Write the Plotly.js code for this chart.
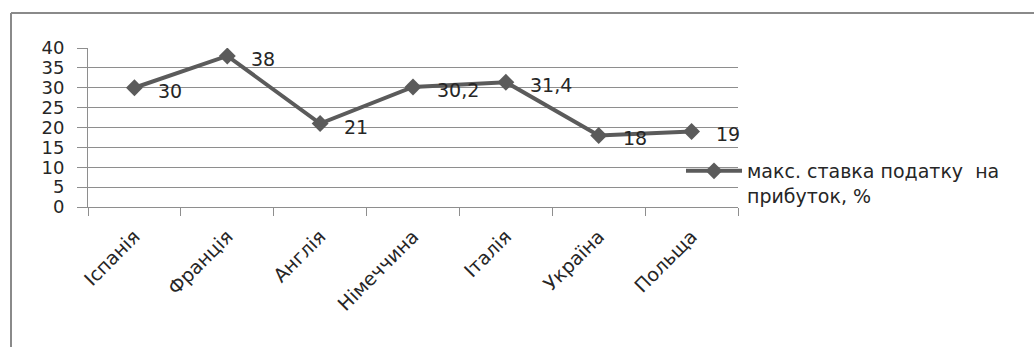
<!DOCTYPE html>
<html>
<head>
<meta charset="utf-8">
<script src="https://cdn.plot.ly/plotly-3.0.1.min.js"></script>
<style>
  html, body { margin: 0; padding: 0; background: #ffffff; }
  #chart { width: 1034px; height: 347px; }
</style>
</head>
<body>
<div id="chart"></div>
<script>
// Maximum corporate profit tax rate by country, %
const countries = ['Іспанія', 'Франція', 'Англія', 'Німеччина', 'Італія', 'Україна', 'Польща'];
const taxRates = [30, 38, 21, 30.2, 31.4, 18, 19];
const seriesName = 'макс. ставка податку \u00a0на<br>прибуток, %';
const yTicks = [0, 5, 10, 15, 20, 25, 30, 35, 40];

const W = 1034, H = 347;
const M = { l: 88, r: 296, t: 48, b: 140, autoexpand: false };
const PW = W - M.l - M.r, PH = H - M.t - M.b;
// convert page pixels into paper coordinates (for the outer frame lines)
const px = x => (x - M.l) / PW;
const py = y => (M.t + PH - y) / PH;

const INK = '#5b5b5b';
const GRID = '#8e8e8e';
const TEXT = '#262626';
const FONT = 'DejaVu Sans, sans-serif';

const fmt = v => String(v).replace('.', ',');

const trace = {
  type: 'scatter',
  mode: 'lines+markers',
  x: countries,
  y: taxRates,
  name: seriesName,
  line: { color: INK, width: 4 },
  marker: { symbol: 'diamond', size: 13, color: INK },
  hoverinfo: 'x+y'
};

const labels = countries.map((c, i) => ({
  x: c, y: taxRates[i], xref: 'x', yref: 'y',
  text: fmt(taxRates[i]),
  showarrow: false, xanchor: 'left', yanchor: 'middle',
  xshift: 22, yshift: -3,
  font: { family: FONT, size: 19, color: TEXT }
}));

const layout = {
  width: W, height: H,
  margin: M,
  paper_bgcolor: '#ffffff',
  plot_bgcolor: '#ffffff',
  font: { family: FONT, size: 19, color: TEXT },
  showlegend: true,
  legend: {
    xref: 'container', yref: 'container',
    x: 681 / W, y: 1 - 152 / H,
    xanchor: 'left', yanchor: 'top',
    itemwidth: 56,
    valign: 'top',
    font: { family: FONT, size: 19, color: TEXT },
    bgcolor: 'rgba(0,0,0,0)'
  },
  xaxis: {
    type: 'category',
    range: [-0.5, countries.length - 0.5],
    tickson: 'boundaries',
    ticks: 'outside', ticklen: 8, tickwidth: 1, tickcolor: GRID,
    ticklabelstandoff: 10,
    showline: true, linecolor: GRID, linewidth: 1,
    showgrid: false, zeroline: false,
    tickangle: -45,
    tickfont: { family: FONT, size: 19, color: TEXT },
    fixedrange: true
  },
  yaxis: {
    range: [0, 40],
    tickvals: yTicks,
    ticks: 'outside', ticklen: 10, tickwidth: 1, tickcolor: GRID,
    ticklabelstandoff: 9,
    showline: true, linecolor: GRID, linewidth: 1,
    showgrid: true, gridcolor: GRID, gridwidth: 1,
    zeroline: false,
    tickfont: { family: FONT, size: 18, color: TEXT },
    fixedrange: true
  },
  shapes: [
    // outer frame: top and left edges
    { type: 'line', xref: 'paper', yref: 'paper', x0: px(11), x1: px(1040), y0: py(13), y1: py(13),
      line: { color: '#8a8a8a', width: 2 } },
    { type: 'line', xref: 'paper', yref: 'paper', x0: px(11), x1: px(11), y0: py(13), y1: py(352),
      line: { color: '#8a8a8a', width: 2 } }
  ],
  annotations: labels
};

Plotly.newPlot('chart', [trace], layout, { displayModeBar: false, staticPlot: true });
</script>
</body>
</html>
